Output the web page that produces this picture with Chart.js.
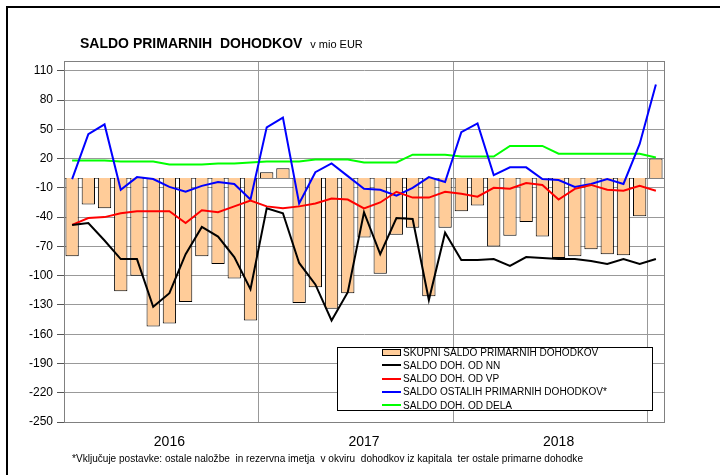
<!DOCTYPE html>
<html><head><meta charset="utf-8">
<script src="https://cdn.jsdelivr.net/npm/chart.js@4.4.0/dist/chart.umd.min.js"></script>
<style>
html,body{margin:0;padding:0;background:#fff;}
#wrap{position:relative;width:720px;height:475px;overflow:hidden;font-family:"Liberation Sans",Arial,sans-serif;color:#000;}
#frame{position:absolute;left:6px;top:6px;width:800px;height:600px;border-left:2px solid #000;border-top:2px solid #000;}
canvas{position:absolute;left:0;top:0;}
#title{position:absolute;left:80px;top:36px;font-weight:bold;font-size:14px;line-height:14px;white-space:pre;}
#title span{font-weight:normal;font-size:11px;}
#legend{position:absolute;left:337px;top:347px;width:314px;height:62px;border:1px solid #000;background:#fff;}
.lt{position:absolute;left:403px;font-size:10px;line-height:13px;white-space:nowrap;transform-origin:0 50%;}
.sw{position:absolute;}
#foot{position:absolute;left:72px;top:454px;font-size:10px;line-height:10px;white-space:pre;transform-origin:0 0;}
</style>
</head><body>
<div id="wrap">
<div id="frame"></div>
<canvas id="c" width="720" height="475"></canvas>
<div id="title">SALDO PRIMARNIH  DOHODKOV  <span>v mio EUR</span></div>
<div id="legend"></div>
<div id="foot">*Vključuje postavke: ostale naložbe  in rezervna imetja  v okviru  dohodkov iz kapitala  ter ostale primarne dohodke</div>
</div>
<script>
// Categories: months Jan 2016 – Jan 2019
const months = ['2016-01','2016-02','2016-03','2016-04','2016-05','2016-06','2016-07','2016-08','2016-09','2016-10','2016-11','2016-12',
  '2017-01','2017-02','2017-03','2017-04','2017-05','2017-06','2017-07','2017-08','2017-09','2017-10','2017-11','2017-12',
  '2018-01','2018-02','2018-03','2018-04','2018-05','2018-06','2018-07','2018-08','2018-09','2018-10','2018-11','2018-12',
  '2019-01'];
// Series (mio EUR)
const skupni = [-80,-27,-31,-116,-100,-152,-149,-127,-80,-88,-103,-146,
  6,10,-128,-112,-134,-118,-61,-98,-58,-51,-121,-51,
  -34,-28,-70,-59,-45,-60,-82,-80,-73,-78,-79,-39,
  20];
const dohNN = [-48,-46,-64,-83,-83,-132,-118,-78,-50,-60,-81,-114,
  -31,-36,-87,-109,-146,-117,-35,-78,-41,-42,-125,-56,
  -84,-84,-83,-90,-81,-82,-83,-83,-85,-88,-83,-88,
  -83];
const dohVP = [-48,-41,-40,-36,-34,-34,-34,-46,-33,-35,-29,-23,
  -29,-31,-29,-26,-21,-22,-31,-25,-14,-20,-20,-14,
  -16,-19,-10,-11,-5,-7,-22,-11,-7,-12,-13,-8,
  -13];
const ostali = [-1,45,55,-12,1,-1,-9,-14,-8,-4,-6,-22,
  52,62,-26,6,15,2,-11,-12,-18,-10,1,-4,
  47,56,3,11,11,-1,-2,-9,-6,-1,-6,35,
  96];
const dela = [18,18,18,17,17,17,14,14,14,15,15,16,
  17,17,17,19,19,19,16,16,16,24,24,24,
  22,22,22,33,33,33,25,25,25,25,25,25,
  21];
// Tick labels
const yTicks = [-250,-220,-190,-160,-130,-100,-70,-40,-10,20,50,80,110];
const yearLabels = {'2016-07':'2016','2017-07':'2017','2018-07':'2018'};
const yearBoundaries = [12,24,36];

const seriesNames = ['SKUPNI SALDO PRIMARNIH DOHODKOV','SALDO DOH. OD NN','SALDO DOH. OD VP','SALDO OSTALIH PRIMARNIH DOHODKOV*','SALDO DOH. OD DELA'];

Chart.defaults.font.family = '"Liberation Sans", Arial, sans-serif';
Chart.defaults.color = '#000';

const framePlugin = {
  id:'framePlugin',
  beforeDatasetsDraw(chart){
    const {ctx, chartArea:a, scales:{y}} = chart;
    ctx.save();
    ctx.strokeStyle = '#808080';
    ctx.lineWidth = 1;
    ctx.strokeRect(Math.round(a.left)+0.5, Math.round(a.top)+0.5, Math.round(a.right-a.left), Math.round(a.bottom-a.top));
    const y0 = Math.round(y.getPixelForValue(0))+0.5;
    ctx.beginPath(); ctx.moveTo(a.left,y0); ctx.lineTo(a.right,y0); ctx.stroke();
    ctx.restore();
  }
};

function lineDs(label, data, color){
  return {type:'line', label, data, borderColor:color, backgroundColor:color, borderWidth:2,
    pointRadius:0, tension:0, fill:false, order:1};
}

const chart = new Chart(document.getElementById('c'), {
  data:{
    labels: months,
    datasets:[
      {type:'bar', label:seriesNames[0], data:skupni, backgroundColor:'#FFCC99', borderColor:'#000',
        borderWidth:1, barPercentage:0.82, categoryPercentage:1, order:5},
      lineDs(seriesNames[1], dohNN, '#000000'),
      lineDs(seriesNames[2], dohVP, '#FF0000'),
      lineDs(seriesNames[3], ostali, '#0000FF'),
      lineDs(seriesNames[4], dela, '#00FF00')
    ]
  },
  options:{
    responsive:false, animation:false,
    layout:{padding:{left:0, top:61, right:56, bottom:0}},
    plugins:{legend:{display:false}, tooltip:{enabled:false}},
    scales:{
      x:{
        offset:true,
        grid:{offset:true, drawTicks:false, lineWidth:1,
          color: c => yearBoundaries.includes(c.index) ? '#999999' : 'rgba(0,0,0,0)'},
        border:{display:false},
        ticks:{autoSkip:false, maxRotation:0, minRotation:0, padding:12, font:{size:14},
          callback:(v,i) => yearLabels[months[i]] || ''},
        afterFit: s => { s.height = 53; }
      },
      y:{
        min:-250, max:120,
        afterBuildTicks: s => { s.ticks = yTicks.map(v => ({value:v})); },
        grid:{color:'#999999', tickColor:'#555555', tickLength:7, lineWidth:1},
        border:{display:true, color:'#808080'},
        ticks:{padding:4, font:{size:12}},
        afterFit: s => { s.width = 64; }
      }
    }
  },
  plugins:[framePlugin]
});

// Legend (HTML, from dataset labels/colours)
const wrap = document.getElementById('wrap');
const rowY = [352, 365.25, 378.5, 391.75, 405];
const texts = [];
chart.data.datasets.forEach((ds, i) => {
  const yc = rowY[i];
  const sw = document.createElement('div');
  sw.className = 'sw';
  if (ds.type === 'bar') {
    Object.assign(sw.style, {left:'382px', top:(yc-3.5)+'px', width:'17px', height:'5px',
      background:ds.backgroundColor, border:'1px solid #000'});
  } else {
    Object.assign(sw.style, {left:'382px', top:(yc-1)+'px', width:'19px', height:'2px', background:ds.borderColor});
  }
  wrap.appendChild(sw);
  const t = document.createElement('div');
  t.className = 'lt';
  t.textContent = ds.label;
  t.style.top = (yc-6.5)+'px';
  wrap.appendChild(t);
  texts.push(t);
});
// fit widths to reference
const longest = texts[3].getBoundingClientRect().width;
const ls = 204/longest;
texts.forEach(t => t.style.transform = 'scaleX('+ls+')');
const foot = document.getElementById('foot');
foot.style.transform = 'scaleX('+(511/foot.getBoundingClientRect().width)+')';
const title = document.getElementById('title');
</script>
</body></html>
